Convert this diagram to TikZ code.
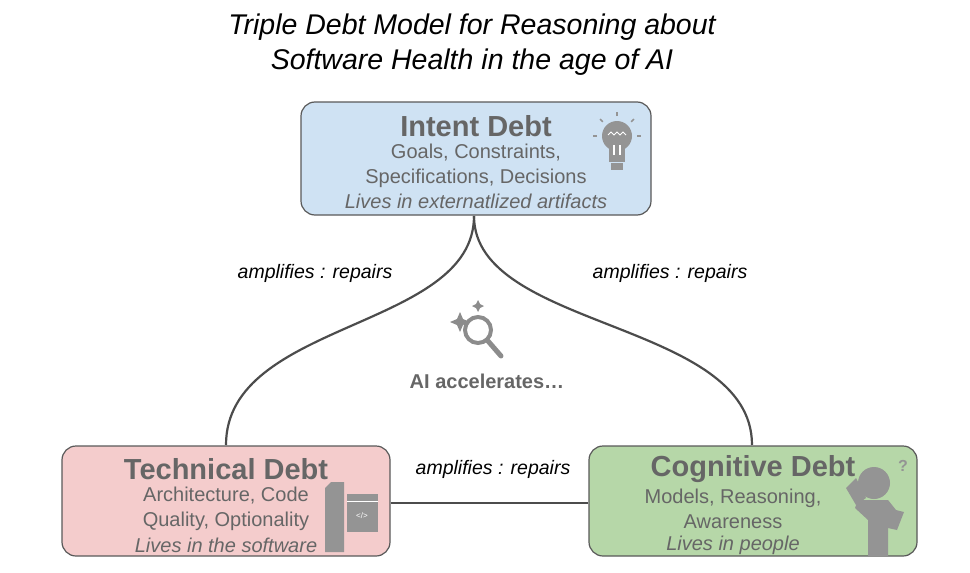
\documentclass[tikz,border=0pt]{standalone}
\usepackage{fontspec}
\setmainfont{Liberation Sans}
\begin{document}
\begin{tikzpicture}[x=1pt,y=-1pt,
 box/.style={draw=black!65,line width=1.2pt,rounded corners=14pt},
 lnk/.style={draw=black!70,line width=2.2pt},
 lab/.style={font=\fontsize{19.5}{22}\selectfont\itshape},
 ttl/.style={font=\fontsize{29}{30}\selectfont\bfseries,text=black!60},
 body/.style={font=\fontsize{20}{24.5}\selectfont,text=black!60,align=center},
 ibody/.style={font=\fontsize{20}{23.5}\selectfont\itshape,text=black!60},
 ico/.style={fill=black!42,draw=none}]
\useasboundingbox (0,0) rectangle (970,573);
\definecolor{cb}{HTML}{CFE2F3}\definecolor{cr}{HTML}{F4CCCC}\definecolor{cg}{HTML}{B6D7A8}
\node[font=\fontsize{28.5}{35}\selectfont\itshape,align=center] (title) at (472,45) {Triple Debt Model for Reasoning about\\Software Health in the age of AI};
% boxes
\node[box,fill=cb,minimum width=350pt,minimum height=113pt] (intent) at (476,158.5) {};
\node[box,fill=cr,minimum width=328pt,minimum height=110pt] (tech) at (226,501) {};
\node[box,fill=cg,minimum width=328pt,minimum height=110pt] (cog) at (753,501) {};
% links
\coordinate (ib) at (474,216); \coordinate (tt) at (226,445); \coordinate (ct) at (752,445);
\draw[lnk] (ib) .. controls (474,330) and (226,320) .. (tt);
\draw[lnk] (ib) .. controls (474,330) and (752,320) .. (ct);
\draw[lnk] (tech.east |- 0,503) -- (cog.west |- 0,503);
\node[lab] (l1) at (315,273) {amplifies : repairs};
\node[lab] (l2) at (670,273) {amplifies : repairs};
\node[lab] (l3) at (493,469) {amplifies : repairs};
% intent text
\node[ttl] (it) at (476,126) {Intent Debt};
\node[body] (ib1) at (476,166) {Goals, Constraints,\\Specifications, Decisions};
\node[ibody] (ib2) at (476,201) {Lives in externatlized artifacts};
% tech text
\node[ttl] (tt1) at (226,469) {Technical Debt};
\node[body] (tb1) at (226,509) {Architecture, Code\\Quality, Optionality};
\node[ibody] (tb2) at (226,545) {Lives in the software};
% cog text
\node[ttl] (ct1) at (753,469) {Cognitive Debt};
\node[body] (cb1) at (733,509) {Models, Reasoning,\\Awareness};
\node[ibody] (cb2) at (733,545) {Lives in people};
% AI
\node[font=\fontsize{20}{22}\selectfont\bfseries,text=black!60] (ai) at (487,381) {AI accelerates\ldots};
% magnifier icon
\draw[black!45,line width=4pt] (478,330) circle (13);
\draw[black!45,line width=5pt,line cap=round] (488,341) -- (501,356);
\fill[black!45] (460,312) -- (463,319) -- (470,322) -- (463,325) -- (460,332) -- (457,325) -- (450,322) -- (457,319) -- cycle;
\fill[black!45] (478,300) -- (480,304) -- (484,306) -- (480,308) -- (478,312) -- (476,308) -- (472,306) -- (476,304) -- cycle;
% bulb
\fill[ico] (617,136) circle (15);
\fill[ico] (609,145) rectangle (625,162);
\fill[ico] (611,163) rectangle (623,170);
\draw[white,line width=1pt] (608,135) -- (611,132) -- (614,135) -- (617,132) -- (620,135) -- (623,132) -- (626,135);
\draw[white,line width=1.2pt] (614,145) -- (614,155) (620,145) -- (620,155);
\foreach \a in {0,45,90,135,180} \draw[black!42,line width=1.5pt] (617,136) ++(180+\a:20) -- ++(180+\a:4);
% document icon
\fill[ico] (325,488) -- (331,482) -- (344,482) -- (344,552) -- (325,552) -- cycle;
\fill[ico] (347,494) rectangle (378,532);
\draw[white,line width=0.8pt] (347,501) -- (378,501);
\node[text=white,font=\fontsize{8}{8}\selectfont] (codeicon) at (362,516) {</>};
% person
\fill[ico] (874,483) circle (16);
\fill[ico] (858,500) -- (888,500) -- (896,510) -- (904,512) -- (897,530) -- (888,528) -- (888,556) -- (868,556) -- (868,520) -- (855,508) -- cycle;
\fill[ico] (846,488) -- (856,478) -- (866,498) -- (856,505) -- cycle;
\node[text=black!42,font=\fontsize{16}{16}\selectfont\bfseries] (q) at (903,466) {?};
\end{tikzpicture}
\end{document}
